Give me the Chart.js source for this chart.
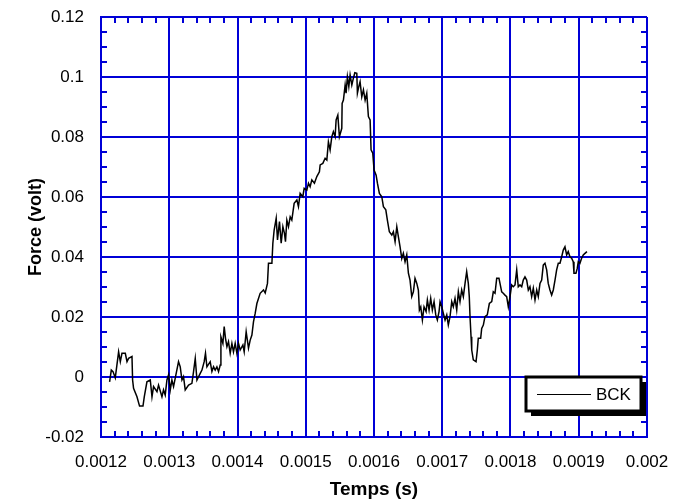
<!DOCTYPE html>
<html><head><meta charset="utf-8">
<script src="https://cdn.jsdelivr.net/npm/chart.js@4/dist/chart.umd.min.js"></script>
<style>html,body{margin:0;padding:0;background:#fff;overflow:hidden}</style>
</head><body>
<canvas id="c" width="683" height="502"></canvas>
<script>
// time in microseconds
const timeUs = [
1212.6,1215.1,1217.6,1220.9,1225.8,1228.3,1230.7,1235.6,1238.1,1240.4,1245.4,1246.3,1247.7,1252.7,1256.5,1261.5,1263.4,1267.3,1272.2,1274.7,
1277.0,1282.0,1284.3,1289.3,1291.6,1294.1,1296.6,1299.0,1301.5,1303.9,1306.3,1313.6,1316.1,1318.6,1320.9,1323.4,1328.3,1333.2,1335.6,1338.1,
1340.6,1345.4,1347.9,1351.2,1353.1,1355.2,1360.0,1362.5,1364.9,1367.3,1369.8,1372.2,1374.7,1375.7,1378.6,1380.5,1382.4,1384.5,1386.8,1389.3,
1391.8,1394.1,1396.6,1399.1,1401.5,1403.9,1407.9,1409.8,1412.7,1416.1,1418.6,1421.1,1423.4,1425.9,1428.4,1433.2,1438.1,1440.6,1443.9,1445.4,
1450.4,1451.8,1453.7,1456.7,1458.6,1461.5,1464.0,1466.5,1468.8,1470.3,1472.3,1474.7,1477.2,1479.6,1483.0,1487.0,1489.3,1491.8,1495.7,1497.7,
1501.6,1504.0,1506.4,1508.9,1512.7,1516.2,1520.0,1521.1,1525.0,1528.4,1530.9,1533.2,1535.7,1538.2,1540.5,1543.0,1544.5,1547.0,1549.3,1552.8,
1553.3,1555.2,1557.7,1559.1,1561.0,1563.1,1565.0,1567.5,1569.8,1571.9,1574.8,1575.7,1577.7,1579.6,1582.1,1584.5,1587.0,1589.4,1591.8,1594.3,
1595.7,1598.2,1600.1,1603.1,1605.0,1607.9,1611.4,1613.8,1617.3,1619.6,1622.5,1626.1,1628.4,1630.9,1633.4,1635.7,1638.2,1640.7,1643.0,1645.5,
1648.0,1650.4,1652.8,1655.3,1657.7,1660.1,1662.7,1665.0,1666.5,1668.5,1670.9,1673.3,1676.3,1678.2,1680.7,1683.1,1685.5,1688.0,1690.5,1692.8,
1695.3,1696.8,1699.3,1701.6,1704.1,1706.6,1708.9,1711.4,1713.9,1716.2,1718.7,1721.2,1723.6,1726.0,1728.5,1730.9,1733.4,1735.8,1738.2,1739.6,
1740.7,1742.2,1743.2,1745.5,1749.5,1751.4,1752.8,1756.3,1757.8,1760.2,1762.6,1766.0,1769.0,1772.5,1774.8,1777.3,1779.8,1783.1,1784.6,1787.1,
1789.4,1791.9,1794.4,1796.8,1799.3,1801.7,1804.1,1806.6,1809.1,1811.4,1813.9,1816.4,1818.7,1821.2,1823.7,1826.1,1828.5,1831.0,1833.4,1835.9,
1838.4,1840.7,1843.2,1845.7,1848.0,1850.5,1853.0,1855.3,1857.8,1860.3,1862.7,1865.2,1867.6,1870.0,1872.5,1875.0,1877.3,1879.8,1882.3,1884.6,
1887.1,1889.6,1891.9,1893.0,1895.9,1897.8,1899.3,1901.7,1904.2,1906.6,1909.1,1912.0
];
const forceVolt = [
-0.0016,0.0023,0.0018,-0.0003,0.0084,0.0051,0.0079,0.0079,0.0051,0.0062,0.0068,-0.001,-0.0038,-0.0066,-0.0097,-0.0097,-0.0066,-0.0016,-0.001,-0.0066,
-0.0032,-0.0049,-0.0027,-0.0066,-0.0043,-0.006,-0.001,0.0007,-0.0043,-0.001,-0.0032,0.0051,0.0034,-0.001,0.0001,-0.0043,-0.0027,-0.0021,0.0018,0.0062,
-0.001,0.0012,0.0023,0.0051,0.0079,0.0034,0.0051,0.0018,0.0034,0.0023,0.0034,0.0018,0.004,0.0134,0.0112,0.0168,0.0129,0.0101,0.0118,0.0079,
0.0112,0.0084,0.0112,0.0079,0.0112,0.009,0.0107,0.0084,0.0151,0.0096,0.0123,0.014,0.0184,0.0212,0.0245,0.0279,0.029,0.028,0.0312,0.0379,
0.0379,0.0446,0.049,0.0529,0.0457,0.0518,0.0446,0.0501,0.0479,0.0451,0.0523,0.0501,0.0534,0.0523,0.0579,0.059,0.0568,0.0612,0.0601,0.0629,
0.0623,0.0646,0.0634,0.0657,0.0646,0.0668,0.0684,0.0707,0.0712,0.0729,0.0723,0.0784,0.0757,0.0801,0.0818,0.0801,0.0857,0.0873,0.0801,0.0829,
0.0912,0.0923,0.0973,0.0946,0.1001,0.0968,0.1007,0.0973,0.0996,0.1014,0.1012,0.0946,0.0968,0.0984,0.0934,0.0957,0.0923,0.0946,0.0868,0.0857,
0.0757,0.0746,0.069,0.0673,0.0646,0.0612,0.0601,0.0568,0.0557,0.0523,0.0484,0.0473,0.0484,0.0451,0.0501,0.0468,0.0434,0.0395,0.0412,0.0384,
0.0407,0.0346,0.0323,0.0268,0.0284,0.0329,0.0312,0.029,0.0223,0.0234,0.019,0.0234,0.0218,0.0257,0.0223,0.0262,0.0223,0.0251,0.0207,0.019,
0.0218,0.0251,0.0234,0.0212,0.019,0.0207,0.0173,0.0201,0.0251,0.0234,0.0262,0.0223,0.0284,0.0251,0.029,0.0268,0.0312,0.0351,0.0312,0.0268,
0.0201,0.0134,0.009,0.0057,0.0051,0.009,0.0129,0.0129,0.0162,0.0173,0.0201,0.0207,0.0245,0.0251,0.0284,0.0279,0.0329,0.0329,0.0312,0.0284,
0.0279,0.0273,0.0268,0.0234,0.0268,0.0307,0.0301,0.0307,0.0357,0.0301,0.0307,0.0301,0.0323,0.0334,0.0323,0.029,0.0301,0.0268,0.0296,0.0257,
0.029,0.0268,0.0312,0.0323,0.0373,0.0379,0.0357,0.0312,0.029,0.0273,0.029,0.0323,0.0357,0.0379,0.0379,0.0401,0.0423,0.0434,0.0407,0.0418,
0.0401,0.0396,0.0384,0.0346,0.0346,0.0362,0.0384,0.0379,0.0396,0.0407,0.0412,0.0418
];
const seriesName = 'BCK';
const xTickLabels = ['0.0012','0.0013','0.0014','0.0015','0.0016','0.0017','0.0018','0.0019','0.002'];
const yTickLabels = ['-0.02','0','0.02','0.04','0.06','0.08','0.1','0.12'];
const xTitle = 'Temps (s)';
const yTitle = 'Force (volt)';
const xMinorPerMajor = 5;
const yMinorPerMajor = 4;

const BLUE = 'rgb(0,0,215)';
const FONT = "'Liberation Sans', Arial, sans-serif";
const xTickValues = xTickLabels.map(Number);
const yTickValues = yTickLabels.map(Number);
const points = timeUs.map((t, i) => ({x: t * 1e-6, y: forceVolt[i]}));

const deco = {
  id: 'deco',
  beforeDatasetsDraw(chart) {
    const {ctx, chartArea: a, scales: {x, y}} = chart;
    ctx.save();
    ctx.strokeStyle = BLUE;
    ctx.lineWidth = 2;
    const L = 6;
    ctx.beginPath();
    for (let k = 0; k < xTickValues.length - 1; k++) {
      const v0 = xTickValues[k], v1 = xTickValues[k + 1];
      for (let j = 1; j < xMinorPerMajor; j++) {
        const px = Math.round(x.getPixelForValue(v0 + (v1 - v0) * j / xMinorPerMajor));
        ctx.moveTo(px, a.bottom); ctx.lineTo(px, a.bottom - L);
        ctx.moveTo(px, a.top); ctx.lineTo(px, a.top + L);
      }
    }
    for (let k = 0; k < yTickValues.length - 1; k++) {
      const v0 = yTickValues[k], v1 = yTickValues[k + 1];
      for (let j = 1; j < yMinorPerMajor; j++) {
        const py = Math.round(y.getPixelForValue(v0 + (v1 - v0) * j / yMinorPerMajor));
        ctx.moveTo(a.left, py); ctx.lineTo(a.left + L, py);
        ctx.moveTo(a.right, py); ctx.lineTo(a.right - L, py);
      }
    }
    ctx.stroke();
    ctx.restore();
  },
  afterDraw(chart) {
    const {ctx} = chart;
    ctx.save();
    // legend box with shadow
    const bx = 526, by = 377, bw = 115, bh = 34;
    ctx.fillStyle = '#000';
    ctx.fillRect(bx + 5, by + 5, bw, bh);
    ctx.fillStyle = '#fff';
    ctx.fillRect(bx, by, bw, bh);
    ctx.strokeStyle = '#000';
    ctx.lineWidth = 3;
    ctx.strokeRect(bx, by, bw, bh);
    ctx.lineWidth = 1.2;
    ctx.beginPath();
    ctx.moveTo(537, 394.5); ctx.lineTo(591, 394.5);
    ctx.stroke();
    ctx.fillStyle = '#000';
    ctx.font = '17px ' + FONT;
    ctx.textBaseline = 'middle';
    ctx.textAlign = 'left';
    ctx.fillText(chart.data.datasets[0].label, 596, 395);
    ctx.restore();
  }
};

new Chart(document.getElementById('c'), {
  type: 'line',
  data: {
    datasets: [{
      label: seriesName,
      data: points,
      borderColor: '#000',
      borderWidth: 1.5,
      pointRadius: 0,
      tension: 0,
      fill: false
    }]
  },
  options: {
    responsive: false,
    animation: false,
    devicePixelRatio: 1,
    layout: {padding: {left: 0, right: 36, top: 17, bottom: 0}},
    plugins: {legend: {display: false}, tooltip: {enabled: false}},
    scales: {
      x: {
        type: 'linear',
        min: xTickValues[0],
        max: xTickValues[xTickValues.length - 1],
        afterBuildTicks: s => { s.ticks = xTickValues.map(v => ({value: v})); },
        afterFit: s => { s.height = 65; s.paddingLeft = 0; s.paddingRight = 0; },
        ticks: {
          autoSkip: false, maxRotation: 0, minRotation: 0,
          callback: (v, i) => xTickLabels[i],
          color: '#000', font: {family: FONT, size: 17}, padding: 15
        },
        grid: {color: BLUE, lineWidth: 2, drawTicks: false},
        border: {display: true, color: BLUE, width: 2},
        title: {display: true, text: xTitle, color: '#000',
                font: {family: FONT, size: 19, weight: 'bold'}, padding: {top: 0, bottom: 1}}
      },
      y: {
        type: 'linear',
        min: yTickValues[0],
        max: yTickValues[yTickValues.length - 1],
        afterBuildTicks: s => { s.ticks = yTickValues.map(v => ({value: v})); },
        afterFit: s => { s.width = 101; s.paddingTop = 0; s.paddingBottom = 0; },
        ticks: {
          autoSkip: false,
          callback: (v, i) => yTickLabels[i],
          color: '#000', font: {family: FONT, size: 17}, padding: 17
        },
        grid: {color: BLUE, lineWidth: 2, drawTicks: false},
        border: {display: true, color: BLUE, width: 2},
        title: {display: true, text: yTitle, color: '#000',
                font: {family: FONT, size: 18, weight: 'bold'}, padding: {top: 25, bottom: 0}}
      }
    }
  },
  plugins: [deco]
});
</script>
</body></html>
